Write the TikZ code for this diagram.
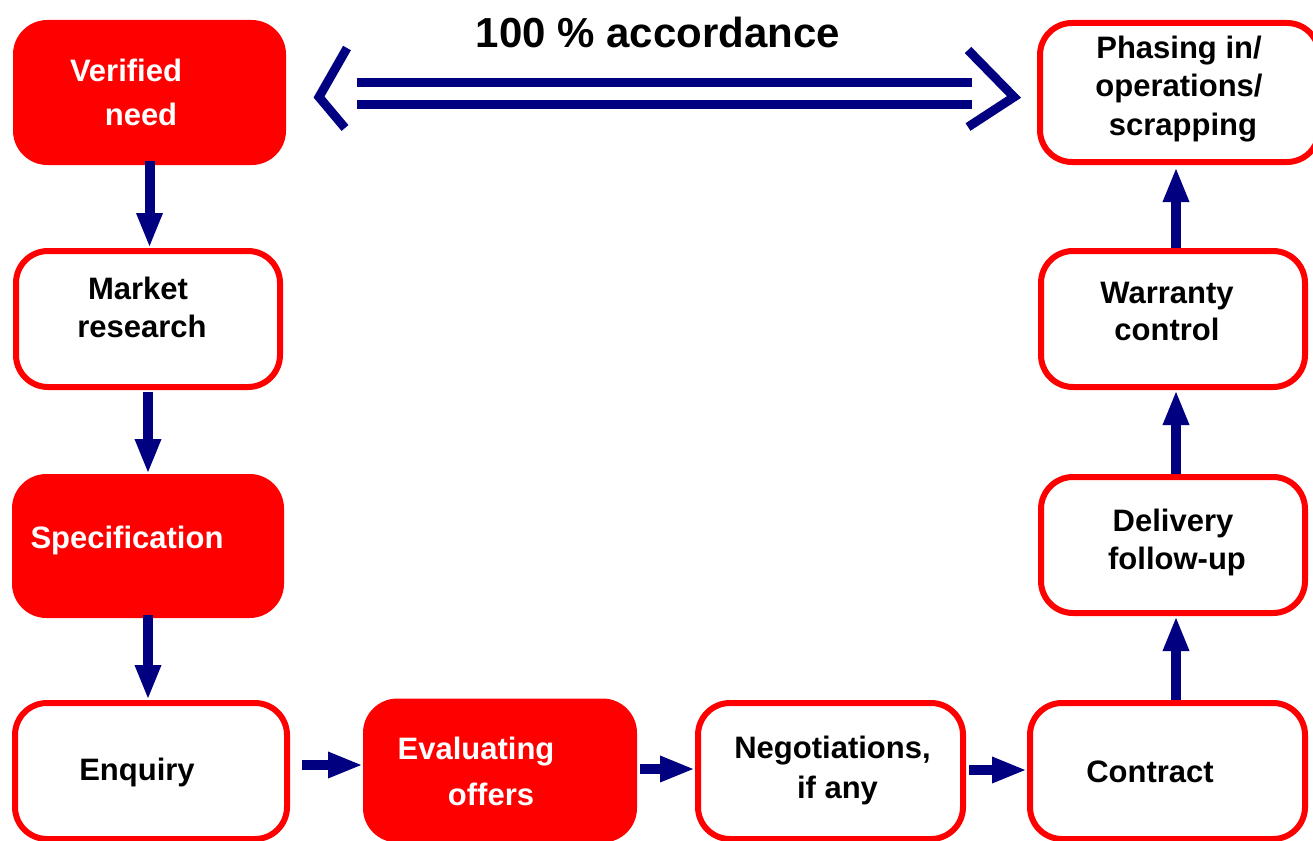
\documentclass[tikz,border=0pt]{standalone}
\usepackage{fontspec}
\setmainfont{Liberation Sans}
\usetikzlibrary{arrows.meta}
\definecolor{bred}{HTML}{FF0000}
\definecolor{navyc}{HTML}{000080}
\tikzset{
  box/.style={draw=bred, line width=6pt, rounded corners=32pt, fill=white, minimum width=264pt, minimum height=136pt, inner sep=0pt},
  fbox/.style={fill=bred, draw=bred, line width=1pt, rounded corners=34pt, inner sep=0pt},
  txt/.style={font=\bfseries\fontsize{31}{38}\selectfont, align=center, text=black},
  wtxt/.style={txt, text=white},
  arr/.style={navyc, line width=10pt, -{Triangle[length=35pt,width=24pt]}},
  dbl/.style={navyc, line width=9pt},
}
\begin{document}
\begin{tikzpicture}[x=1pt,y=-1pt]
\useasboundingbox (0,0) rectangle (1313,840);
% boxes
\node[fbox, minimum width=272pt, minimum height=144pt] (vn) at (149.5,92.5) {};
\node[box] (mr) at (148,319) {};
\node[fbox, minimum width=271pt, minimum height=143pt] (sp) at (148,546) {};
\node[box, minimum width=272pt] (en) at (151,771) {};
\node[fbox, minimum width=273pt, minimum height=143pt] (ev) at (500,770.5) {};
\node[box, minimum width=265pt] (ng) at (830.5,771) {};
\node[box, minimum width=275pt] (ct) at (1167.5,771) {};
\node[box] (dl) at (1173,545) {};
\node[box] (wc) at (1173,319) {};
\node[box, minimum width=279pt, minimum height=139pt] (ph) at (1179.5,92.5) {};
% texts
\node[wtxt, font=\bfseries\fontsize{31}{44}\selectfont] (vnt) at (133.5,92) {Verified\hspace*{15pt}\\\hspace*{15pt}need};
\node[txt] (mrt) at (140,307) {Market\hspace*{4pt}\\\hspace*{4pt}research};
\node[wtxt] (spt) at (127,540) {Specification};
\node[txt] (ent) at (137,772) {Enquiry};
\node[wtxt, font=\bfseries\fontsize{31}{46}\selectfont] (evt) at (483.5,771) {Evaluating\hspace*{15pt}\\\hspace*{15pt}offers};
\node[txt, font=\bfseries\fontsize{31}{40}\selectfont] (ngt) at (835,770) {Negotiations,\hspace*{5pt}\\\hspace*{5pt}if any};
\node[txt] (ctt) at (1150,772) {Contract};
\node[txt] (dlt) at (1175,542) {Delivery\hspace*{4pt}\\\hspace*{4pt}follow-up};
\node[txt, font=\bfseries\fontsize{31}{37}\selectfont] (wct) at (1167,311) {Warranty\\control};
\node[txt, font=\bfseries\fontsize{31}{38.5}\selectfont] (pht) at (1179,89) {Phasing in/\\operations/\\\hspace*{8pt}scrapping};
\node[font=\bfseries\fontsize{42}{50}\selectfont] (title) at (658,32) {100 \% accordance};
% vertical arrows left
\draw[arr] ([yshift=4]vn.south) -- (vn.south |- mr.north);
\draw[arr] ([yshift=-2]mr.south) -- (mr.south |- sp.north);
\draw[arr] ([yshift=3]sp.south) -- (sp.south |- en.north);
% horizontal arrows
\draw[arr] ([xshift=12,yshift=6]en.east) -- ([yshift=6]en.east -| ev.west);
\draw[arr] ([xshift=3,yshift=1.5]ev.east) -- ([yshift=1.5]ev.east -| ng.west);
\draw[arr] ([xshift=3,yshift=1]ng.east) -- ([yshift=1]ng.east -| ct.west);
% vertical arrows right
\draw[arr] ([xshift=8.5]ct.north) -- ([xshift=3]dl.south);
\draw[arr] ([xshift=3]dl.north) -- ([xshift=3]wc.south);
\draw[arr] ([xshift=3]wc.north) -- ([xshift=-3.5,yshift=-2]ph.south);
% double accordance arrow
\coordinate (l1) at (357,83); \coordinate (r1) at (972,83);
\coordinate (l2) at (357,105); \coordinate (r2) at (972,105);
\draw[dbl] (l1) -- (r1);
\draw[dbl] (l2) -- (r2);
\coordinate (la) at (347,48); \coordinate (lb) at (319,97); \coordinate (lc) at (345,128);
\coordinate (ra) at (968,50); \coordinate (rb) at (1014,97); \coordinate (rc) at (968,127);
\draw[dbl] (la) -- (lb) -- (lc);
\draw[dbl] (ra) -- (rb) -- (rc);
\end{tikzpicture}
\end{document}
